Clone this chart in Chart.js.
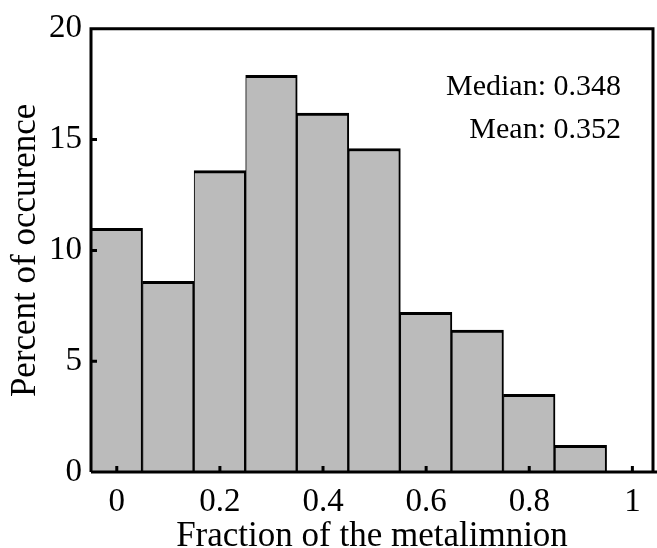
<!DOCTYPE html>
<html><head><meta charset="utf-8">
<script src="https://cdn.jsdelivr.net/npm/chart.js@4/dist/chart.umd.min.js"></script>
<style>html,body{margin:0;padding:0;background:#fff;} canvas{display:block;}</style>
</head><body>
<canvas id="c" width="657" height="548" style="width:657px;height:548px"></canvas>
<script>
const binCenters = [0, 0.1, 0.2, 0.3, 0.4, 0.5, 0.6, 0.7, 0.8, 0.9];
const percents = [11.0, 8.6, 13.6, 17.9, 16.2, 14.6, 7.2, 6.4, 3.5, 1.2];
const xTickValues = [0, 0.2, 0.4, 0.6, 0.8, 1];
const xTickLabels = ['0', '0.2', '0.4', '0.6', '0.8', '1'];
const yTickValues = [0, 5, 10, 15, 20];
const statLines = ['Median: 0.348', 'Mean: 0.352'];
const xTitle = 'Fraction of the metalimnion';
const yTitle = 'Percent of occurence';

const SERIF = '"Liberation Serif", "Times New Roman", serif';

const points = binCenters.map((c, i) => ({x: c, y: percents[i]}));

const framePlugin = {
  id: 'frame',
  afterDatasetsDraw(chart) {
    const {ctx, chartArea: a, scales: {x, y}} = chart;
    ctx.save();
    ctx.strokeStyle = '#000';
    ctx.lineWidth = 3;
    ctx.beginPath();
    ctx.moveTo(a.left, a.bottom);
    ctx.lineTo(chart.width, a.bottom);
    ctx.moveTo(a.left, a.bottom);
    ctx.lineTo(a.left, a.top);
    ctx.lineTo(a.right, a.top);
    ctx.lineTo(a.right, a.bottom);
    ctx.stroke();
    ctx.beginPath();
    xTickValues.forEach(v => {
      const px = x.getPixelForValue(v);
      ctx.moveTo(px, a.bottom);
      ctx.lineTo(px, a.bottom - 6);
    });
    yTickValues.forEach(v => {
      if (v === y.min || v === y.max) return;
      const py = y.getPixelForValue(v);
      ctx.moveTo(a.left, py);
      ctx.lineTo(a.left + 6, py);
    });
    ctx.stroke();
    ctx.fillStyle = '#000';
    ctx.font = '30px ' + SERIF;
    ctx.textAlign = 'right';
    ctx.textBaseline = 'alphabetic';
    ctx.fillText(statLines[0], a.right - 32, a.top + 66);
    ctx.fillText(statLines[1], a.right - 32, a.top + 109);
    ctx.restore();
  }
};

new Chart(document.getElementById('c'), {
  type: 'bar',
  data: {
    datasets: [{
      data: points,
      backgroundColor: '#bbbbbb',
      borderColor: '#000',
      borderWidth: {top: 3, left: 1, right: 2, bottom: 0},
      borderSkipped: 'start',
      barPercentage: 1,
      categoryPercentage: 1
    }]
  },
  options: {
    responsive: false,
    devicePixelRatio: 1,
    animation: false,
    layout: {padding: {left: 0, top: 24, right: 4, bottom: 0}},
    plugins: {legend: {display: false}, tooltip: {enabled: false}},
    scales: {
      x: {
        type: 'linear',
        offset: false,
        min: -0.05,
        max: 1.04,
        grid: {display: false, drawTicks: false},
        border: {display: false},
        afterBuildTicks: s => { s.ticks = xTickValues.map(v => ({value: v})); },
        afterFit: s => { s.height = 76; },
        ticks: {
          color: '#000',
          font: {family: SERIF, size: 33},
          padding: 11,
          maxRotation: 0,
          autoSkip: false,
          callback: (v) => { const i = xTickValues.indexOf(v); return i >= 0 ? xTickLabels[i] : ''; }
        },
        title: {
          display: true, text: xTitle, color: '#000',
          font: {family: SERIF, size: 35, lineHeight: 0.86},
          padding: {top: 0, bottom: -4}
        }
      },
      y: {
        min: 0,
        max: 20,
        grid: {display: false, drawTicks: false},
        border: {display: false},
        afterBuildTicks: s => { s.ticks = yTickValues.map(v => ({value: v})); },
        afterFit: s => { s.width = 91; },
        ticks: {
          color: '#000',
          font: {family: SERIF, size: 33},
          padding: 9,
          callback: v => String(v)
        },
        title: {
          display: true, text: yTitle, color: '#000',
          font: {family: SERIF, size: 35, lineHeight: 0.86},
          padding: {top: 11, bottom: 0}
        }
      }
    }
  },
  plugins: [framePlugin]
});
</script>
</body></html>
